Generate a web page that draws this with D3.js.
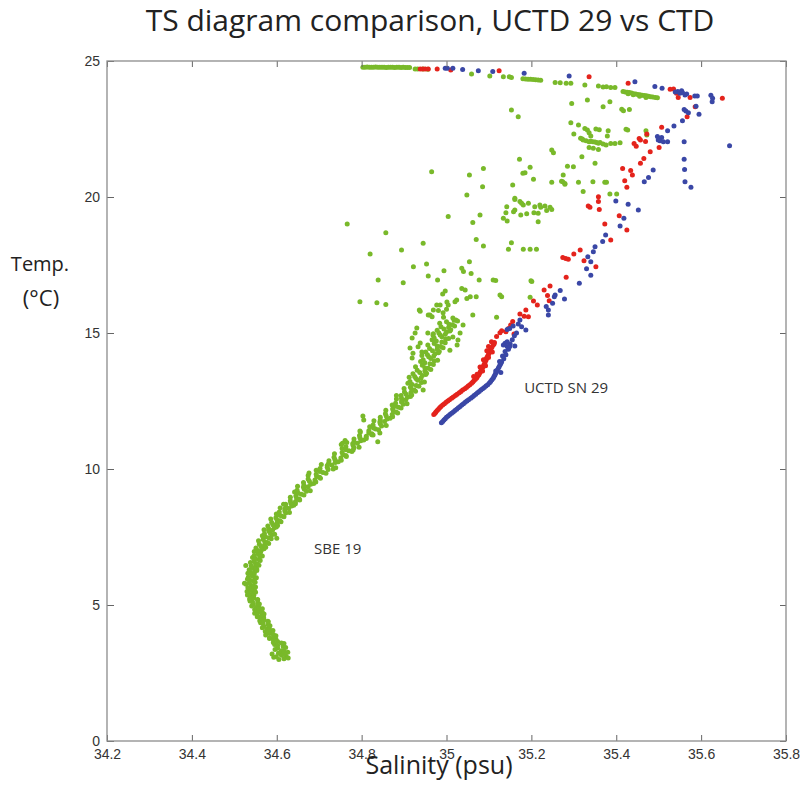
<!DOCTYPE html>
<html>
<head>
<meta charset="utf-8">
<script src="https://cdn.jsdelivr.net/npm/d3@7"></script>
<style>
  body { margin: 0; background: #fff; }
</style>
</head>
<body>
<div id="chart"></div>
<script>
// Salinity / temperature values, as [salinity, temp] pairs

const xTicks = [34.2, 34.4, 34.6, 34.8, 35, 35.2, 35.4, 35.6, 35.8];
const yTicks = [0, 5, 10, 15, 20, 25];

// SBE 19 (green) - main curve
const sbeCurve = [
  [34.599,3.10],[34.611,3.15],[34.622,3.12],[34.604,3.23],[34.616,3.20],[34.626,3.26],[34.596,3.36],[34.611,3.32],[34.617,3.30],
  [34.602,3.41],[34.615,3.47],[34.621,3.44],[34.595,3.55],[34.602,3.51],[34.617,3.58],
  [34.589,3.20],[34.627,3.05],[34.605,3.00],[34.617,3.02],[34.593,3.08],
  [34.592,3.62],[34.602,3.66],[34.611,3.60],[34.583,3.77],[34.592,3.73],[34.598,3.75],[34.583,3.80],[34.593,3.84],[34.598,3.87],
  [34.574,3.90],[34.583,3.95],[34.592,3.92],[34.573,4.03],[34.583,4.00],[34.591,4.06],[34.566,4.16],[34.578,4.12],[34.583,4.10],
  [34.570,4.21],[34.580,4.27],[34.584,4.24],[34.562,4.35],[34.568,4.31],[34.580,4.38],[34.560,4.42],[34.570,4.46],[34.579,4.40],
  [34.554,4.57],[34.563,4.53],[34.569,4.55],[34.555,4.60],[34.565,4.64],[34.570,4.67],[34.548,4.70],[34.557,4.75],[34.566,4.72],
  [34.548,4.83],[34.558,4.80],[34.566,4.86],[34.541,4.96],[34.553,4.92],[34.558,4.90],[34.545,5.01],[34.555,5.07],[34.559,5.04],
  [34.537,5.15],[34.543,5.11],[34.555,5.18],[34.536,5.22],[34.546,5.26],[34.555,5.20],[34.531,5.37],[34.540,5.33],[34.546,5.35],
  [34.535,5.40],[34.545,5.44],[34.550,5.47],[34.530,5.50],[34.539,5.55],[34.548,5.52],[34.532,5.63],[34.542,5.60],[34.550,5.66],
  [34.528,5.76],[34.540,5.72],[34.545,5.70],[34.535,5.81],[34.545,5.87],[34.549,5.84],[34.531,5.95],[34.537,5.91],[34.549,5.98],
  [34.533,6.02],[34.543,6.06],[34.552,6.00],[34.532,6.17],[34.541,6.13],[34.547,6.15],[34.538,6.20],[34.548,6.24],[34.553,6.27],
  [34.535,6.30],[34.544,6.35],[34.553,6.32],[34.540,6.43],[34.550,6.40],[34.558,6.46],[34.538,6.56],[34.550,6.52],[34.555,6.50],
  [34.547,6.61],[34.557,6.67],[34.561,6.64],[34.543,6.75],[34.549,6.71],[34.561,6.78],[34.547,6.82],[34.557,6.86],[34.566,6.80],
  [34.547,6.97],[34.556,6.93],[34.562,6.95],[34.555,7.00],[34.565,7.04],[34.570,7.07],
  [34.551,7.10],[34.563,7.15],[34.574,7.12],[34.559,7.23],[34.571,7.20],[34.581,7.26],[34.557,7.36],[34.572,7.32],[34.578,7.30],
  [34.568,7.41],[34.581,7.47],[34.587,7.44],[34.566,7.55],[34.573,7.51],[34.588,7.58],[34.571,7.62],[34.584,7.66],[34.595,7.60],
  [34.570,7.77],[34.581,7.73],[34.590,7.75],[34.581,7.80],[34.594,7.84],[34.599,7.87],[34.579,7.90],[34.591,7.95],[34.602,7.92],
  [34.588,8.03],[34.600,8.00],[34.610,8.06],[34.586,8.16],[34.601,8.12],[34.607,8.10],[34.598,8.21],[34.611,8.27],[34.617,8.24],
  [34.599,8.35],[34.606,8.31],[34.621,8.38],[34.606,8.42],[34.619,8.46],[34.630,8.40],[34.608,8.57],[34.619,8.53],[34.628,8.55],
  [34.622,8.60],[34.635,8.64],[34.640,8.67],[34.621,8.70],[34.633,8.75],[34.644,8.72],[34.632,8.83],[34.644,8.80],[34.654,8.86],
  [34.632,8.96],[34.647,8.92],[34.653,8.90],[34.645,9.01],[34.658,9.07],[34.664,9.04],
  [34.642,9.15],[34.651,9.11],[34.670,9.18],[34.648,9.22],[34.665,9.26],[34.679,9.20],[34.649,9.37],[34.663,9.33],[34.674,9.35],
  [34.664,9.40],[34.680,9.44],[34.687,9.47],[34.663,9.50],[34.677,9.55],[34.692,9.52],[34.674,9.63],[34.690,9.60],[34.703,9.66],
  [34.674,9.76],[34.694,9.72],[34.701,9.70],[34.693,9.81],[34.709,9.87],[34.716,9.84],[34.693,9.95],[34.702,9.91],[34.721,9.98],
  [34.702,10.02],[34.719,10.06],[34.733,10.00],[34.705,10.17],[34.719,10.13],[34.730,10.15],[34.722,10.20],[34.738,10.24],[34.745,10.27],
  [34.723,10.30],[34.737,10.35],[34.752,10.32],[34.735,10.43],[34.751,10.40],[34.764,10.46],[34.736,10.56],[34.756,10.52],[34.763,10.50],
  [34.754,10.61],[34.770,10.67],[34.777,10.64],[34.754,10.75],[34.763,10.71],[34.782,10.78],[34.763,10.82],[34.780,10.86],[34.794,10.80],
  [34.765,10.97],[34.779,10.93],[34.790,10.95],[34.782,11.00],[34.798,11.04],[34.805,11.07],[34.782,11.10],[34.796,11.15],[34.811,11.12],
  [34.795,11.23],[34.811,11.20],[34.824,11.26],[34.797,11.36],[34.817,11.32],[34.824,11.30],[34.817,11.41],[34.833,11.47],[34.840,11.44],
  [34.819,11.55],[34.828,11.51],[34.847,11.58],[34.827,11.62],[34.844,11.66],[34.858,11.60],[34.829,11.77],[34.843,11.73],[34.854,11.75],
  [34.844,11.80],[34.860,11.84],[34.867,11.87],[34.844,11.90],[34.858,11.95],[34.873,11.92],[34.856,12.03],[34.872,12.00],[34.885,12.06],
  [34.857,12.16],[34.875,12.12],[34.881,12.10],[34.873,12.21],[34.887,12.27],[34.893,12.24],[34.872,12.35],[34.880,12.31],[34.898,12.38],
  [34.880,12.42],[34.894,12.46],[34.907,12.40],[34.882,12.57],[34.895,12.53],[34.904,12.55],[34.894,12.60],[34.908,12.64],[34.915,12.67],
  [34.893,12.70],[34.905,12.75],[34.918,12.72],[34.901,12.83],[34.916,12.80],[34.927,12.86],[34.900,12.96],[34.918,12.92],[34.924,12.90],
  [34.915,13.01],[34.929,13.07],[34.935,13.04],
  [34.909,13.15],[34.919,13.11],[34.941,13.18],[34.914,13.22],[34.932,13.26],[34.948,13.20],[34.912,13.37],[34.928,13.33],[34.940,13.35],
  [34.925,13.40],[34.943,13.44],[34.951,13.47],[34.921,13.50],[34.937,13.55],[34.953,13.52],[34.931,13.63],[34.949,13.60],[34.963,13.66],
  [34.927,13.76],[34.949,13.72],[34.957,13.70],[34.943,13.81],[34.961,13.87],[34.969,13.84],[34.939,13.95],[34.949,13.91],[34.971,13.98],
  [34.945,14.02],[34.963,14.06],[34.979,14.00],[34.942,14.17],[34.958,14.13],[34.970,14.15],[34.955,14.20],[34.973,14.24],[34.981,14.27],
  [34.951,14.30],[34.967,14.35],[34.983,14.32],[34.960,14.43],[34.978,14.40],[34.992,14.46],[34.956,14.56],[34.978,14.52],[34.986,14.50],
  [34.971,14.61],[34.989,14.67],[34.997,14.64],[34.966,14.75],[34.976,14.71],[34.998,14.78],[34.971,14.82],[34.989,14.86],[35.005,14.80],
  [34.969,14.97],[34.985,14.93],[34.997,14.95],[34.982,15.00],[35.000,15.04],[35.008,15.07],[34.978,15.10],[34.994,15.15],[35.010,15.12],
  [34.987,15.23],[35.005,15.20],[35.019,15.26],[34.984,15.36],[35.006,15.32],[35.014,15.30],[35.000,15.41],[35.018,15.47],[35.026,15.44],
  [34.527,6.45],[34.524,5.80],[34.600,7.45],[34.616,8.70],[34.676,9.85],[34.739,10.05],[34.752,10.90],[34.803,11.95],
  [34.882,12.70],[34.945,12.90]
];

// SBE 19 (green) - scattered upper points and surface line
const sbeScatter = [
  [34.843,11.32],[34.827,11.25],[34.796,11.40],[34.780,10.70],[34.761,11.05],[34.838,11.00],[34.755,10.95],[34.805,11.80],
  [35.001,16.14],[34.961,15.66],[34.966,15.60],[34.992,15.74],[34.930,15.18],[34.926,15.00],[34.919,14.82],[34.938,14.63],
  [34.956,15.00],[34.968,14.93],[34.914,14.45],[34.933,14.49],[34.921,14.26],[34.919,14.08],[34.942,14.30],[35.015,14.85],
  [35.032,15.00],[35.025,14.56],[35.008,14.37],[35.027,14.74],[35.039,15.29],[35.015,15.55],[35.022,15.48],
  [34.965,20.93],[35.087,21.05],[35.054,20.81],[35.085,20.38],[35.048,20.07],[35.004,19.28],[35.079,19.34],[35.062,19.06],
  [34.766,19.01],[34.857,18.69],[34.945,18.30],[35.070,18.44],[35.087,18.20],[34.820,17.90],[34.894,18.05],
  [34.953,17.54],[34.922,17.44],[34.994,17.29],[35.036,17.38],[35.054,17.62],[35.058,17.19],[34.957,17.10],[34.839,16.95],
  [34.898,16.85],[34.979,16.95],[35.077,16.95],[35.110,16.95],[35.116,16.93],[35.040,17.26],
  [35.036,16.64],[35.044,16.58],[34.997,16.54],[34.991,16.43],[34.796,16.15],[34.836,16.11],[34.857,16.05],[34.936,15.85],
  [34.977,16.03],[34.985,16.03],[35.000,15.87],[35.024,16.21],[35.048,16.27],[35.070,16.33],[35.062,15.66],[34.957,15.66],
  [34.993,15.58],[35.056,16.33],[35.126,16.40],[35.130,16.33],[35.197,16.31],[35.199,16.92],[35.201,16.89],[35.020,16.15],
  [35.004,16.03],[34.969,15.85],[34.981,15.83],[35.118,15.58],[34.938,15.80],
  [35.248,20.54],[35.274,20.56],[35.279,20.47],[35.311,20.54],[35.345,20.56],[35.373,20.54],[35.377,20.54],
  [35.385,20.11],[35.401,20.11],[35.142,19.64],[35.140,19.42],[35.143,19.12],[35.134,19.22],
  [35.161,19.91],[35.173,19.83],[35.181,19.71],[35.177,19.77],[35.193,19.77],
  [35.208,19.64],[35.220,19.71],[35.222,19.62],[35.216,19.40],[35.206,19.42],[35.189,19.38],[35.175,19.34],[35.158,19.46],
  [35.161,19.52],[35.232,19.67],[35.248,19.54],[35.236,19.50],[35.244,19.62],[35.216,19.09],
  [35.153,18.32],[35.146,18.08],[35.181,18.08],[35.197,18.08],[35.212,18.08],
  [35.295,23.44],[35.332,23.57],[35.369,23.32],[35.385,23.50],[35.413,23.23],[35.417,23.17],[35.431,23.22],[35.153,23.20],
  [35.169,22.95],[35.293,22.73],[35.311,22.65],[35.300,22.32],
  [35.326,22.52],[35.332,22.46],[35.336,22.36],[35.340,22.24],
  [35.352,22.50],[35.360,22.47],[35.381,22.44],[35.379,22.24],[35.423,22.49],[35.427,22.46],[35.470,22.44],[35.472,22.28],
  [35.316,22.16],[35.322,22.10],[35.329,22.07],[35.336,22.03],[35.345,22.03],[35.354,22.00],[35.362,22.00],[35.369,21.95],
  [35.376,21.91],[35.387,21.97],[35.397,21.97],[35.409,21.99],[35.320,22.13],[35.340,22.05],[35.350,22.02],[35.358,21.98],
  [35.336,21.82],[35.346,21.79],[35.358,21.75],
  [35.248,21.73],[35.252,21.63],[35.319,21.48],[35.172,21.39],[35.350,21.24],[35.285,21.13],[35.299,21.11],[35.197,21.09],
  [35.185,20.89],[35.180,20.87],[35.275,20.81],[35.279,20.50],[35.205,20.65],[35.271,20.58],[35.156,20.44],[35.322,20.20],
  [35.161,19.95],
  [34.803,24.77],[34.808,24.77],[34.813,24.78],[34.818,24.77],[34.823,24.77],[34.828,24.77],[34.833,24.78],[34.838,24.77],
  [34.843,24.77],[34.848,24.77],[34.853,24.77],[34.858,24.76],[34.863,24.77],[34.868,24.77],[34.873,24.77],[34.878,24.76],
  [34.883,24.77],[34.888,24.77],[34.893,24.76],[34.898,24.77],[34.903,24.76],[34.908,24.76],[34.913,24.76],
  [34.926,24.71],[34.932,24.71],[34.945,24.71],[34.956,24.70],
  [35.059,24.52],[35.102,24.45],[35.134,24.42],[35.148,24.42],[35.153,24.39],
  [35.180,24.35],[35.186,24.34],[35.192,24.33],[35.198,24.33],[35.204,24.32],[35.210,24.31],[35.216,24.30],[35.222,24.29],
  [35.256,24.21],[35.268,24.20],[35.282,24.18],[35.293,24.18],[35.326,24.12],[35.358,24.08],[35.369,24.04],[35.377,24.05],
  [35.387,24.03],[35.397,24.03],
  [35.416,23.88],[35.421,23.86],[35.426,23.85],[35.431,23.84],[35.436,23.82],[35.441,23.80],[35.446,23.79],[35.451,23.77],
  [35.456,23.76],[35.461,23.74],[35.466,23.73],[35.471,23.72],[35.476,23.70],[35.481,23.69],[35.486,23.68],[35.492,23.66],
  [35.497,23.65],[35.428,23.80],[35.440,23.76],[35.455,23.70],[35.470,23.66]
];

// UCTD SN 29, first cast (red)
const uctdRed = [
  [34.970,12.00],[34.973,12.05],[34.975,12.10],[34.978,12.15],[34.981,12.20],[34.984,12.25],[34.987,12.30],[34.991,12.35],
  [34.995,12.40],[34.999,12.45],[35.003,12.50],[35.007,12.55],[35.012,12.60],[35.016,12.65],[35.021,12.70],[35.025,12.75],
  [35.030,12.80],[35.034,12.85],[35.038,12.90],[35.043,12.95],[35.047,13.00],[35.051,13.05],[35.055,13.10],[35.059,13.15],
  [35.062,13.20],[35.065,13.25],[35.068,13.30],[35.071,13.35],[35.073,13.40],[35.076,13.46],[35.078,13.52],[35.080,13.58],
  [35.082,13.64],[35.084,13.70],[35.086,13.76],[35.088,13.82],[35.090,13.88],[35.091,13.94],[35.093,14.00],[35.094,14.06],
  [35.096,14.12],[35.098,14.18],[35.100,14.25],[35.102,14.32],[35.104,14.40],[35.107,14.48],[35.110,14.56],[35.113,14.65],
  [35.072,13.48],[35.085,13.60],[35.079,13.75],[35.092,13.80],[35.087,14.02],[35.099,14.10],[35.095,14.35],[35.108,14.30],
  [35.064,13.40],
  [35.118,14.87],[35.106,14.68],[35.112,14.60],[35.099,14.50],[35.126,15.01],[35.130,15.08],[35.140,15.05],[35.146,15.17],
  [35.151,15.29],[35.156,15.42],[35.159,14.96],[35.173,15.70],[35.183,15.62],[35.193,15.60],[35.187,15.85],
  [35.205,16.18],[35.214,16.03],[35.238,16.38],[35.242,16.19],[35.230,16.58],[35.244,16.73],[35.282,17.05],
  [35.274,17.78],[35.281,17.74],[35.287,17.71],[35.324,17.66],[35.352,17.44],[35.300,17.90],[35.315,18.05],
  [35.387,18.42],[35.425,18.79],[35.373,19.01],[35.407,19.31],[35.360,19.54],[35.334,19.67],[35.338,19.62],
  [35.358,20.01],[35.358,19.83],[35.425,20.36],[35.420,20.60],[35.434,20.97],[35.438,20.81],[35.415,21.05],
  [35.457,21.24],[35.465,21.42],[35.480,21.66],[35.501,21.82],[35.442,21.97],[35.447,21.87],[35.454,22.15],[35.457,22.10],
  [35.472,22.32],[35.469,22.04],[35.507,22.56],[35.567,22.95],[35.586,23.32],[35.650,23.63],[35.574,23.66],
  [35.546,23.66],[35.542,23.81],[35.527,23.96],[35.535,23.97],[35.428,24.18],[35.336,24.42],[35.124,24.64],
  [35.010,24.67],[34.978,24.71],[34.938,24.71],[34.944,24.71],[34.950,24.71],[34.957,24.71]
];

// UCTD SN 29, second cast (blue)
const uctdBlue = [
  [34.988,11.70],[34.991,11.75],[34.994,11.80],[34.997,11.85],[35.000,11.90],[35.004,11.95],[35.008,12.00],[35.012,12.05],
  [35.016,12.10],[35.020,12.15],[35.024,12.20],[35.028,12.25],[35.032,12.30],[35.036,12.35],[35.040,12.40],[35.044,12.45],
  [35.048,12.50],[35.052,12.55],[35.057,12.60],[35.061,12.65],[35.065,12.70],[35.069,12.75],[35.073,12.80],[35.077,12.85],
  [35.081,12.90],[35.085,12.95],[35.089,13.00],[35.093,13.05],[35.097,13.10],[35.101,13.16],[35.104,13.22],[35.107,13.28],
  [35.110,13.34],[35.112,13.40],[35.114,13.46],[35.116,13.52],[35.118,13.58],[35.120,13.64],[35.122,13.70],[35.124,13.76],
  [35.126,13.82],[35.128,13.88],[35.130,13.94],
  [35.116,13.60],[35.128,13.55],[35.125,13.95],[35.135,14.05],[35.132,14.15],[35.140,14.20],[35.138,14.32],[35.146,14.40],
  [35.143,14.50],[35.150,14.60],[35.138,14.62],[35.143,14.68],[35.134,14.56],[35.161,14.52],[35.149,14.50],[35.155,14.75],
  [35.160,14.90],[35.165,15.00],[35.143,15.13],[35.149,15.17],[35.157,15.26],[35.169,15.33],[35.173,15.48],[35.177,15.23],
  [35.187,15.11],
  [35.235,15.97],[35.240,15.85],[35.240,15.66],[35.268,16.56],[35.278,16.25],[35.256,16.40],[35.250,16.09],[35.254,16.33],
  [35.313,16.83],[35.350,18.17],[35.346,17.99],[35.333,17.80],[35.340,17.62],[35.330,17.36],[35.340,17.12],
  [35.375,18.60],[35.368,18.36],[35.418,19.22],[35.409,18.93],[35.399,19.85],[35.428,19.73],[35.452,19.52],
  [35.487,20.99],[35.476,20.72],[35.466,20.56],[35.561,21.01],[35.562,20.56],[35.576,20.36],[35.560,21.39],
  [35.497,22.22],[35.501,22.15],[35.507,22.19],[35.503,22.07],[35.511,22.03],[35.499,22.10],[35.521,22.03],[35.560,22.03],
  [35.667,21.88],[35.521,22.44],[35.536,22.61],[35.556,22.80],[35.595,23.04],[35.560,23.22],[35.564,23.16],[35.570,23.10],
  [35.588,23.34],[35.623,23.74],[35.627,23.63],[35.626,23.50],[35.585,23.71],[35.591,23.71],
  [35.545,23.88],[35.550,23.81],[35.556,23.84],[35.562,23.75],[35.554,23.91],[35.566,23.79],[35.539,23.86],
  [35.491,24.06],[35.508,24.00],[35.444,24.24],[35.289,24.45],[35.183,24.55],[35.109,24.61],[35.075,24.64],
  [35.038,24.69],[35.015,24.73],[34.997,24.73],[35.002,24.73]
];

const seriesColors = { sbe: '#79b92a', red: '#e4231c', blue: '#3a47a6' };

const width = 803;
const height = 809;
const margin = { top: 61, right: 17, bottom: 68, left: 107 };
const innerWidth = width - margin.left - margin.right;
const innerHeight = height - margin.top - margin.bottom;

const svg = d3.select('#chart')
  .append('svg')
  .attr('width', width)
  .attr('height', height)
  .style('font-family', '"Open Sans", sans-serif');

const x = d3.scaleLinear().domain([34.2, 35.8]).range([0, innerWidth]);
const y = d3.scaleLinear().domain([0, 25]).range([innerHeight, 0]);

const g = svg.append('g')
  .attr('transform', `translate(${margin.left},${margin.top})`);

// Points: green first, then the two UCTD casts on top
function drawPoints(data, color) {
  g.append('g')
    .selectAll('circle')
    .data(data)
    .enter()
    .append('circle')
    .attr('cx', d => x(d[0]))
    .attr('cy', d => y(d[1]))
    .attr('r', 2.5)
    .attr('fill', color);
}
drawPoints(sbeCurve, seriesColors.sbe);
drawPoints(sbeScatter, seriesColors.sbe);
drawPoints(uctdRed, seriesColors.red);
drawPoints(uctdBlue, seriesColors.blue);

// Axes, ticks pointing inward
const tickFont = '"Liberation Sans", Arial, sans-serif';

const xAxis = g.append('g')
  .attr('transform', `translate(0,${innerHeight})`)
  .call(d3.axisBottom(x).tickValues(xTicks).tickSize(-6).tickPadding(8).tickFormat(d3.format('')));
const xTop = g.append('g')
  .call(d3.axisTop(x).tickValues(xTicks).tickSize(-6));
const yAxis = g.append('g')
  .call(d3.axisLeft(y).tickValues(yTicks).tickSize(-7).tickPadding(7));
const yRight = g.append('g')
  .attr('transform', `translate(${innerWidth},0)`)
  .call(d3.axisRight(y).tickValues(yTicks).tickSize(-6));

// mirrored ticks carry no labels
xTop.selectAll('text').remove();
yRight.selectAll('text').remove();

[xAxis, xTop, yAxis, yRight].forEach(a => {
  a.select('.domain').remove();
  a.selectAll('line').attr('stroke', '#666');
  a.selectAll('text')
    .style('font-family', tickFont)
    .style('font-size', '14px')
    .attr('fill', '#333');
});

g.append('rect')
  .attr('width', innerWidth)
  .attr('height', innerHeight)
  .attr('fill', 'none')
  .attr('stroke', '#8c8c8c')
  .attr('stroke-width', 1.3);

// Titles and labels
svg.append('text')
  .attr('x', 430)
  .attr('y', 31)
  .attr('text-anchor', 'middle')
  .style('font-size', '30px')
  .attr('fill', '#222')
  .text('TS diagram comparison, UCTD 29 vs CTD');

svg.append('text')
  .attr('x', 40)
  .attr('y', 271)
  .attr('text-anchor', 'middle')
  .style('font-size', '20px')
  .attr('fill', '#222')
  .text('Temp.');

svg.append('text')
  .attr('x', 41)
  .attr('y', 306)
  .attr('text-anchor', 'middle')
  .style('font-size', '22px')
  .attr('fill', '#222')
  .text('(°C)');

svg.append('text')
  .attr('x', 439)
  .attr('y', 774)
  .attr('text-anchor', 'middle')
  .style('font-size', '25px')
  .attr('fill', '#222')
  .text('Salinity (psu)');

// Series annotations
g.append('text')
  .attr('x', x(35.183))
  .attr('y', y(12.8))
  .style('font-size', '15px')
  .attr('fill', '#333')
  .text('UCTD SN 29');

g.append('text')
  .attr('x', x(34.688))
  .attr('y', y(6.87))
  .style('font-size', '15px')
  .attr('fill', '#333')
  .text('SBE 19');
</script>
</body>
</html>
